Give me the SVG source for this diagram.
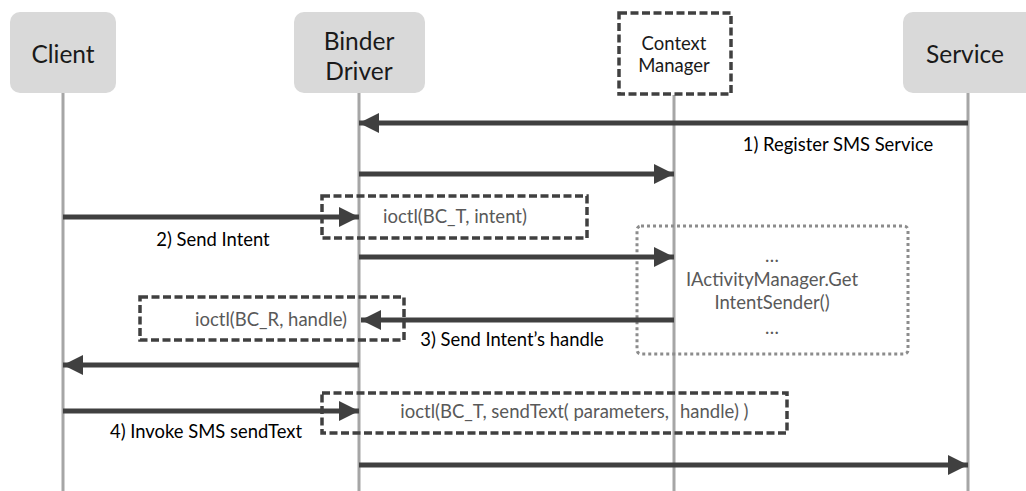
<svg xmlns="http://www.w3.org/2000/svg" width="1026" height="491" viewBox="0 0 1026 491">
<style>
.actor{fill:#d9d9d9;stroke:none}
.life{stroke:#a6a6a6;stroke-width:3;fill:none}
.msg{stroke:#404040;stroke-width:5;fill:none}
.dash{fill:none;stroke:#404040;stroke-width:3.5;stroke-dasharray:8 3.5}
.dot{fill:none;stroke:#8c8c8c;stroke-width:3;stroke-dasharray:3 3}
.big{font-family:Lato,"Open Sans",sans-serif;font-size:24.5px;fill:#1a1a1a;text-anchor:middle}
.mid{font-family:Lato,"Open Sans",sans-serif;font-size:18.5px;fill:#1a1a1a;text-anchor:middle}
.lbl{font-family:Lato,"Open Sans",sans-serif;font-size:18.4px;fill:#000;text-anchor:middle}
.code{font-family:Lato,"Open Sans",sans-serif;font-size:18.5px;fill:#595959;text-anchor:middle}
</style>
<defs>
<marker id="ah" viewBox="0 0 20 20" refX="20" refY="10" markerWidth="20" markerHeight="20" markerUnits="userSpaceOnUse" orient="auto">
<path d="M0,0 L20,10 L0,20 Z" fill="#404040"/>
</marker>
</defs>
<g id="lifelines">
<line class="life" x1="63" y1="93" x2="63" y2="491"/>
<line class="life" x1="359" y1="93" x2="359" y2="491"/>
<line class="life" x1="674" y1="95" x2="674" y2="491"/>
<line class="life" x1="968" y1="93" x2="968" y2="491"/>
</g>
<g id="client"><rect class="actor" x="10" y="12" width="106" height="81" rx="10"/><text class="big" x="63" y="63">Client</text></g>
<g id="binder"><rect class="actor" x="294" y="12" width="131" height="81" rx="10"/><text class="big" x="359" y="50">Binder</text><text class="big" x="359" y="80">Driver</text></g>
<g id="context-manager"><rect class="dash" x="619" y="13" width="112" height="81"/><text class="mid" x="674" y="50">Context</text><text class="mid" x="674" y="72">Manager</text></g>
<g id="service"><rect class="actor" x="903" y="12" width="132" height="81" rx="10"/><text class="big" x="965" y="63">Service</text></g>
<g id="note-intent"><rect class="dash" x="322" y="196" width="265" height="42"/><text class="code" x="455" y="223">ioctl(BC_T, intent)</text></g>
<g id="note-ams"><rect class="dot" x="637" y="226" width="271" height="128" rx="4"/><text class="code" x="772" y="262">…</text><text class="code" x="772" y="286">IActivityManager.Get</text><text class="code" x="772" y="309">IntentSender()</text><text class="code" x="772" y="334">…</text></g>
<g id="note-handle"><rect class="dash" x="140" y="297" width="264" height="43"/><text class="code" x="271" y="326">ioctl(BC_R, handle)</text></g>
<g id="note-sendtext"><rect class="dash" x="322" y="393" width="465" height="40"/><text class="code" x="669" y="418" style="text-anchor:end">ioctl(BC_T, sendText( parameters,</text><text class="code" x="680" y="418" style="text-anchor:start">handle) )</text></g>
<g id="connectors">
<line class="msg" x1="968" y1="123" x2="359" y2="123" marker-end="url(#ah)"/>
<line class="msg" x1="359" y1="174" x2="674" y2="174" marker-end="url(#ah)"/>
<line class="msg" x1="63" y1="217" x2="359" y2="217" marker-end="url(#ah)"/>
<line class="msg" x1="359" y1="257" x2="674" y2="257" marker-end="url(#ah)"/>
<line class="msg" x1="674" y1="320" x2="361" y2="320" marker-end="url(#ah)"/>
<line class="msg" x1="359" y1="365" x2="63" y2="365" marker-end="url(#ah)"/>
<line class="msg" x1="63" y1="411" x2="359" y2="411" marker-end="url(#ah)"/>
<line class="msg" x1="359" y1="465" x2="968" y2="465" marker-end="url(#ah)"/>
</g>
<g id="labels">
<text class="lbl" x="838" y="151">1) Register SMS Service</text>
<text class="lbl" x="213" y="246">2) Send Intent</text>
<text class="lbl" x="512" y="346">3) Send Intent’s handle</text>
<text class="lbl" x="206" y="438">4) Invoke SMS sendText</text>
</g>
</svg>
